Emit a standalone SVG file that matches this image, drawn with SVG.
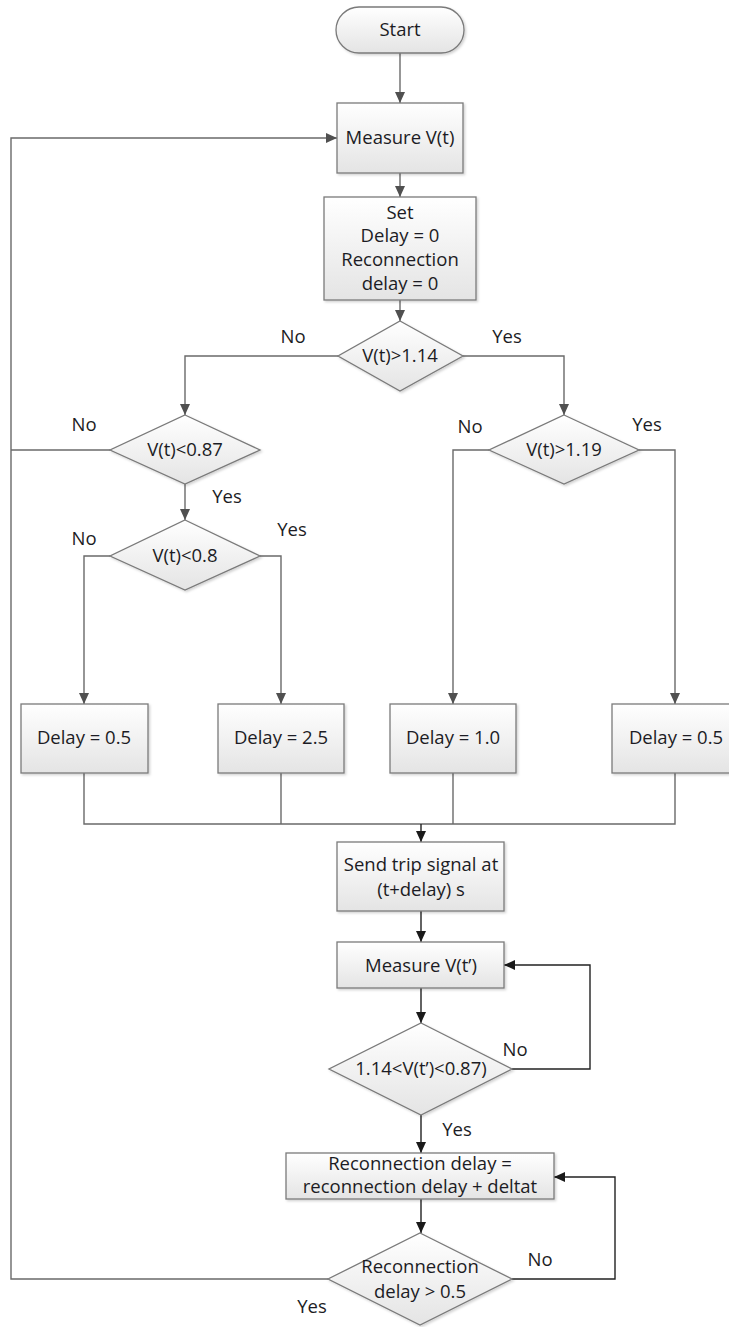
<svg xmlns="http://www.w3.org/2000/svg" width="729" height="1327" viewBox="0 0 729 1327">
<defs>
<linearGradient id="g" x1="0" y1="0" x2="0" y2="1">
<stop offset="0" stop-color="#ffffff"/>
<stop offset="1" stop-color="#e4e4e4"/>
</linearGradient>
<filter id="sh" x="-10%" y="-10%" width="130%" height="130%">
<feDropShadow dx="1.5" dy="1.5" stdDeviation="1" flood-color="#000" flood-opacity="0.18"/>
</filter>
<marker id="ag" markerUnits="userSpaceOnUse" markerWidth="12" markerHeight="10" refX="11" refY="5" orient="auto">
<path d="M0,0 L11,5 L0,10 z" fill="#505050"/>
</marker>
<marker id="ak" markerUnits="userSpaceOnUse" markerWidth="12" markerHeight="10" refX="11" refY="5" orient="auto">
<path d="M0,0 L11,5 L0,10 z" fill="#1a1a1a"/>
</marker>
</defs>
<style>
.n{fill:url(#g);stroke:#7a7a7a;stroke-width:1.3;filter:url(#sh)}
.t{font-family:"Open Sans","Liberation Sans",sans-serif;font-size:18.5px;fill:#1c1c24;text-anchor:middle}
.c{fill:none;stroke:#6a6a6a;stroke-width:1.4}
.k{fill:none;stroke:#222;stroke-width:1.4}
</style>
<rect width="729" height="1327" fill="#fff"/>
<g id="connectors">
<path class="c" d="M400,53 V103" marker-end="url(#ag)"/>
<path class="c" d="M400,173 V197" marker-end="url(#ag)"/>
<path class="c" d="M400,300 V321" marker-end="url(#ag)"/>
<path class="c" d="M338,356 H185 V415" marker-end="url(#ag)"/>
<path class="c" d="M463,356 H564 V415" marker-end="url(#ag)"/>
<path class="c" d="M110,450 H11"/>
<path class="c" d="M185,484 V520" marker-end="url(#ag)"/>
<path class="c" d="M110,556 H84 V704" marker-end="url(#ag)"/>
<path class="c" d="M260,556 H281 V704" marker-end="url(#ag)"/>
<path class="c" d="M489,450 H453 V704" marker-end="url(#ag)"/>
<path class="c" d="M639,450 H675 V704" marker-end="url(#ag)"/>
<path class="c" d="M84,773 V824 H675 V773"/>
<path class="c" d="M281,773 V824"/>
<path class="c" d="M453,773 V824"/>
<path class="k" d="M421,824 V842" marker-end="url(#ak)"/>
<path class="k" d="M421,911 V942" marker-end="url(#ak)"/>
<path class="k" d="M421,988 V1023" marker-end="url(#ak)"/>
<path class="k" d="M512,1069 H590 V965 H504" marker-end="url(#ak)"/>
<path class="k" d="M421,1115 V1153" marker-end="url(#ak)"/>
<path class="k" d="M421,1199 V1233" marker-end="url(#ak)"/>
<path class="k" d="M512,1279 H615 V1177 H554" marker-end="url(#ak)"/>
<path class="c" d="M328,1279 H11 V138 H337" marker-end="url(#ag)"/>
</g>
<g id="start"><rect class="n" x="336" y="7" width="128" height="46" rx="23"/><text class="t" x="400" y="36">Start</text></g>
<g id="measure"><rect class="n" x="337" y="103" width="126" height="70"/><text class="t" x="400" y="144">Measure V(t)</text></g>
<g id="set"><rect class="n" x="324" y="197" width="152" height="103"/>
<text class="t" x="400" y="219">Set</text><text class="t" x="400" y="242">Delay = 0</text><text class="t" x="400" y="266">Reconnection</text><text class="t" x="400" y="290">delay = 0</text></g>
<g id="d1"><path class="n" d="M400,321 L463,356 L400,391 L338,356 z"/><text class="t" x="400" y="362">V(t)&gt;1.14</text></g>
<g id="d2"><path class="n" d="M185,415 L260,450 L185,484 L110,450 z"/><text class="t" x="185" y="456">V(t)&lt;0.87</text></g>
<g id="d3"><path class="n" d="M564,415 L639,450 L564,484 L489,450 z"/><text class="t" x="564" y="456">V(t)&gt;1.19</text></g>
<g id="d4"><path class="n" d="M185,520 L260,556 L185,590 L110,556 z"/><text class="t" x="185" y="562">V(t)&lt;0.8</text></g>
<g id="b1"><rect class="n" x="21" y="704" width="127" height="69"/><text class="t" x="84" y="744">Delay = 0.5</text></g>
<g id="b2"><rect class="n" x="218" y="704" width="126" height="69"/><text class="t" x="281" y="744">Delay = 2.5</text></g>
<g id="b3"><rect class="n" x="390" y="704" width="126" height="69"/><text class="t" x="453" y="744">Delay = 1.0</text></g>
<g id="b4"><rect class="n" x="612" y="704" width="130" height="69"/><text class="t" x="676" y="744">Delay = 0.5</text></g>
<g id="send"><rect class="n" x="337" y="842" width="167" height="69"/><text class="t" x="421" y="871">Send trip signal at</text><text class="t" x="421" y="896">(t+delay) s</text></g>
<g id="measure2"><rect class="n" x="337" y="942" width="167" height="46"/><text class="t" x="421" y="972">Measure V(t’)</text></g>
<g id="d5"><path class="n" d="M421,1023 L512,1069 L421,1115 L329,1069 z"/><text class="t" x="421" y="1075">1.14&lt;V(t’)&lt;0.87)</text></g>
<g id="recon"><rect class="n" x="286" y="1153" width="268" height="46"/><text class="t" x="420" y="1170">Reconnection delay =</text><text class="t" x="420" y="1193">reconnection delay + deltat</text></g>
<g id="d6"><path class="n" d="M420,1233 L512,1279 L420,1325 L328,1279 z"/><text class="t" x="420" y="1273">Reconnection</text><text class="t" x="420" y="1298">delay &gt; 0.5</text></g>
<g id="labels">
<text class="t" x="293" y="343">No</text>
<text class="t" x="507" y="343">Yes</text>
<text class="t" x="84" y="431">No</text>
<text class="t" x="227" y="503">Yes</text>
<text class="t" x="84" y="545">No</text>
<text class="t" x="292" y="536">Yes</text>
<text class="t" x="470" y="433">No</text>
<text class="t" x="647" y="431">Yes</text>
<text class="t" x="515" y="1056">No</text>
<text class="t" x="457" y="1136">Yes</text>
<text class="t" x="540" y="1266">No</text>
<text class="t" x="312" y="1313">Yes</text>
</g>
</svg>
